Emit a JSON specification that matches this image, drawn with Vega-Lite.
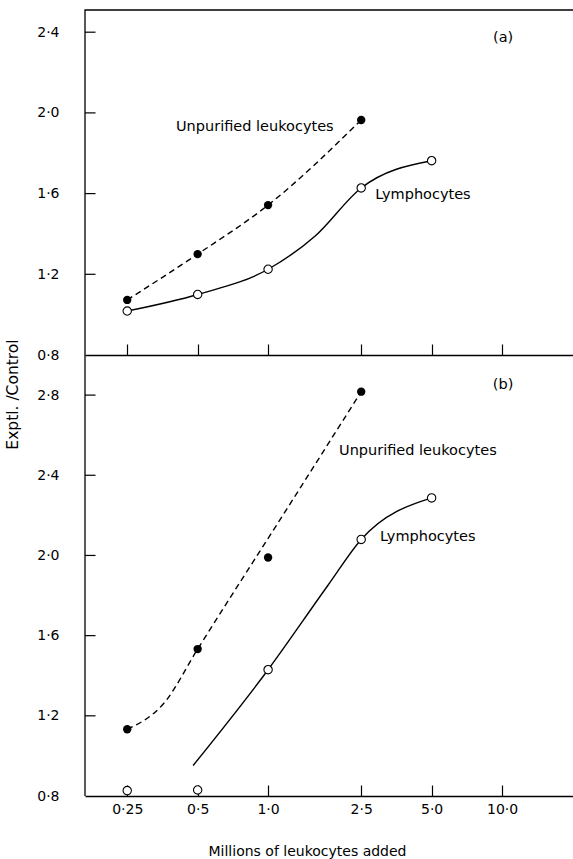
{
  "$schema": "https://vega.github.io/schema/vega-lite/v6.json",
  "padding": {"left": 5, "top": 7, "right": 0, "bottom": 2},
  "spacing": 0,
  "bounds": "flush",
  "background": "white",
  "config": {
    "view": {"stroke": null},
    "font": "DejaVu Sans",
    "axis": {
      "domainColor": "black", "tickColor": "black", "labelColor": "black", "titleColor": "black",
      "grid": false, "domainWidth": 1.3, "tickWidth": 1.2,
      "labelFont": "DejaVu Sans", "labelFontSize": 14, "titleFont": "DejaVu Sans", "titleFontSize": 14, "titleFontWeight": "normal"
    },
    "text": {"font": "DejaVu Sans", "fontSize": 14.5, "color": "black"}
  },
  "datasets": {
    "points": [
      {"panel": "a", "series": "Unpurified", "x": 0.25, "y": 1.073},
      {"panel": "a", "series": "Unpurified", "x": 0.5, "y": 1.30},
      {"panel": "a", "series": "Unpurified", "x": 1.0, "y": 1.543},
      {"panel": "a", "series": "Unpurified", "x": 2.5, "y": 1.965},
      {"panel": "a", "series": "Lymphocytes", "x": 0.25, "y": 1.018},
      {"panel": "a", "series": "Lymphocytes", "x": 0.5, "y": 1.10},
      {"panel": "a", "series": "Lymphocytes", "x": 1.0, "y": 1.225},
      {"panel": "a", "series": "Lymphocytes", "x": 2.5, "y": 1.628},
      {"panel": "a", "series": "Lymphocytes", "x": 5.0, "y": 1.763},
      {"panel": "b", "series": "Unpurified", "x": 0.25, "y": 1.133},
      {"panel": "b", "series": "Unpurified", "x": 0.5, "y": 1.533},
      {"panel": "b", "series": "Unpurified", "x": 1.0, "y": 1.99},
      {"panel": "b", "series": "Unpurified", "x": 2.5, "y": 2.817},
      {"panel": "b", "series": "Lymphocytes", "x": 0.25, "y": 0.827},
      {"panel": "b", "series": "Lymphocytes", "x": 0.5, "y": 0.83},
      {"panel": "b", "series": "Lymphocytes", "x": 1.0, "y": 1.43},
      {"panel": "b", "series": "Lymphocytes", "x": 2.5, "y": 2.08},
      {"panel": "b", "series": "Lymphocytes", "x": 5.0, "y": 2.287}
    ],
    "curves": [
      {"panel": "a", "series": "Unpurified", "x": 0.25, "y": 1.073},
      {"panel": "a", "series": "Unpurified", "x": 0.5, "y": 1.30},
      {"panel": "a", "series": "Unpurified", "x": 1.0, "y": 1.543},
      {"panel": "a", "series": "Unpurified", "x": 2.5, "y": 1.965},
      {"panel": "a", "series": "Lymphocytes", "x": 0.25, "y": 1.018},
      {"panel": "a", "series": "Lymphocytes", "x": 0.5, "y": 1.10},
      {"panel": "a", "series": "Lymphocytes", "x": 1.0, "y": 1.225},
      {"panel": "a", "series": "Lymphocytes", "x": 1.59, "y": 1.39},
      {"panel": "a", "series": "Lymphocytes", "x": 2.5, "y": 1.628},
      {"panel": "a", "series": "Lymphocytes", "x": 5.0, "y": 1.763},
      {"panel": "b", "series": "Unpurified", "x": 0.25, "y": 1.133},
      {"panel": "b", "series": "Unpurified", "x": 0.36, "y": 1.265},
      {"panel": "b", "series": "Unpurified", "x": 0.5, "y": 1.533},
      {"panel": "b", "series": "Unpurified", "x": 1.2, "y": 2.23},
      {"panel": "b", "series": "Unpurified", "x": 2.5, "y": 2.817},
      {"panel": "b", "series": "Lymphocytes", "x": 0.478, "y": 0.952},
      {"panel": "b", "series": "Lymphocytes", "x": 1.0, "y": 1.43},
      {"panel": "b", "series": "Lymphocytes", "x": 1.8, "y": 1.85},
      {"panel": "b", "series": "Lymphocytes", "x": 2.5, "y": 2.08},
      {"panel": "b", "series": "Lymphocytes", "x": 5.0, "y": 2.287}
    ],
    "labels": [
      {"panel": "a", "kind": "series", "text": "Unpurified leukocytes", "x": 0.404, "y": 1.93},
      {"panel": "a", "kind": "series", "text": "Lymphocytes", "x": 2.87, "y": 1.593},
      {"panel": "a", "kind": "panel", "text": "(a)", "x": 10.1, "y": 2.372},
      {"panel": "b", "kind": "series", "text": "Unpurified leukocytes", "x": 2.01, "y": 2.52},
      {"panel": "b", "kind": "series", "text": "Lymphocytes", "x": 3.01, "y": 2.09},
      {"panel": "b", "kind": "panel", "text": "(b)", "x": 10.1, "y": 2.85}
    ],
    "frame": [
      {"panel": "a", "i": 1, "x": 0.165, "y": 0.8},
      {"panel": "a", "i": 2, "x": 0.165, "y": 2.51},
      {"panel": "a", "i": 3, "x": 20.1, "y": 2.51},
      {"panel": "b", "i": 1, "x": 0.165, "y": 0.8},
      {"panel": "b", "i": 2, "x": 0.165, "y": 3.0}
    ],
    "yticks": [
      {"panel": "a", "x": 0.165, "x2": 0.183, "y": 1.2},
      {"panel": "a", "x": 0.165, "x2": 0.183, "y": 1.6},
      {"panel": "a", "x": 0.165, "x2": 0.183, "y": 2.0},
      {"panel": "a", "x": 0.165, "x2": 0.183, "y": 2.4},
      {"panel": "b", "x": 0.165, "x2": 0.183, "y": 1.2},
      {"panel": "b", "x": 0.165, "x2": 0.183, "y": 1.6},
      {"panel": "b", "x": 0.165, "x2": 0.183, "y": 2.0},
      {"panel": "b", "x": 0.165, "x2": 0.183, "y": 2.4},
      {"panel": "b", "x": 0.165, "x2": 0.183, "y": 2.8}
    ]
  },
  "vconcat": [
    {
      "width": 488,
      "height": 345,
      "encoding": {
        "x": {"field": "x", "type": "quantitative", "scale": {"type": "log", "domain": [0.165, 20.1], "nice": false},
          "axis": {"values": [0.25, 0.5, 1, 2.5, 5, 10], "labels": false, "tickSize": -11, "title": null}},
        "y": {"field": "y", "type": "quantitative", "scale": {"domain": [0.8, 2.51], "nice": false, "zero": false},
          "axis": {"values": [0.8, 1.2, 1.6, 2.0, 2.4], "domain": false, "ticks": false, "labelPadding": 26, "labelExpr": "replace(format(datum.value, '.1f'), '.', '·')", "title": null}}
      },
      "layer": [
        {
          "data": {"name": "frame"},
          "transform": [{"filter": "datum.panel == 'a'"}],
          "mark": {"type": "line", "color": "black", "strokeWidth": 1.3},
          "encoding": {"order": {"field": "i"}}
        },
        {
          "data": {"name": "yticks"},
          "transform": [{"filter": "datum.panel == 'a'"}],
          "mark": {"type": "rule", "color": "black", "strokeWidth": 1.2},
          "encoding": {"x2": {"field": "x2"}}
        },
        {
          "data": {"name": "curves"},
          "transform": [{"filter": "datum.panel == 'a' && datum.series == 'Unpurified'"}],
          "mark": {"type": "line", "interpolate": "monotone", "strokeDash": [6, 4], "color": "black", "strokeWidth": 1.4}
        },
        {
          "data": {"name": "curves"},
          "transform": [{"filter": "datum.panel == 'a' && datum.series == 'Lymphocytes'"}],
          "mark": {"type": "line", "interpolate": "monotone", "color": "black", "strokeWidth": 1.4}
        },
        {
          "data": {"name": "points"},
          "transform": [{"filter": "datum.panel == 'a' && datum.series == 'Unpurified'"}],
          "mark": {"type": "point", "filled": true, "color": "black", "size": 70, "opacity": 1}
        },
        {
          "data": {"name": "points"},
          "transform": [{"filter": "datum.panel == 'a' && datum.series == 'Lymphocytes'"}],
          "mark": {"type": "point", "filled": true, "fill": "white", "stroke": "black", "strokeWidth": 1.1, "size": 70, "opacity": 1}
        },
        {
          "data": {"name": "labels"},
          "transform": [{"filter": "datum.panel == 'a' && datum.kind == 'series'"}],
          "mark": {"type": "text", "align": "left", "baseline": "middle"},
          "encoding": {"text": {"field": "text"}}
        },
        {
          "data": {"name": "labels"},
          "transform": [{"filter": "datum.panel == 'a' && datum.kind == 'panel'"}],
          "mark": {"type": "text", "align": "center", "baseline": "middle"},
          "encoding": {"text": {"field": "text"}}
        }
      ]
    },
    {
      "width": 488,
      "height": 441,
      "encoding": {
        "x": {"field": "x", "type": "quantitative", "scale": {"type": "log", "domain": [0.165, 20.1], "nice": false},
          "axis": {"values": [0.25, 0.5, 1, 2.5, 5, 10], "tickSize": -11, "labelPadding": 17,
            "labelExpr": "datum.value == 0.25 ? '0·25' : replace(format(datum.value, '.1f'), '.', '·')",
            "title": "Millions of leukocytes added", "titleX": 222, "titleY": 48, "titleBaseline": "top"}},
        "y": {"field": "y", "type": "quantitative", "scale": {"domain": [0.8, 3.0], "nice": false, "zero": false},
          "axis": {"values": [0.8, 1.2, 1.6, 2.0, 2.4, 2.8], "domain": false, "ticks": false, "labelPadding": 26, "labelExpr": "replace(format(datum.value, '.1f'), '.', '·')",
            "title": "Exptl. /Control", "titleFontSize": 15.5, "titleX": -73, "titleY": 39, "titleBaseline": "middle", "titleAngle": -90}}
      },
      "layer": [
        {
          "data": {"name": "frame"},
          "transform": [{"filter": "datum.panel == 'b'"}],
          "mark": {"type": "line", "color": "black", "strokeWidth": 1.3},
          "encoding": {"order": {"field": "i"}}
        },
        {
          "data": {"name": "yticks"},
          "transform": [{"filter": "datum.panel == 'b'"}],
          "mark": {"type": "rule", "color": "black", "strokeWidth": 1.2},
          "encoding": {"x2": {"field": "x2"}}
        },
        {
          "data": {"name": "curves"},
          "transform": [{"filter": "datum.panel == 'b' && datum.series == 'Unpurified'"}],
          "mark": {"type": "line", "interpolate": "monotone", "strokeDash": [6, 4], "color": "black", "strokeWidth": 1.4}
        },
        {
          "data": {"name": "curves"},
          "transform": [{"filter": "datum.panel == 'b' && datum.series == 'Lymphocytes'"}],
          "mark": {"type": "line", "interpolate": "monotone", "color": "black", "strokeWidth": 1.4}
        },
        {
          "data": {"name": "points"},
          "transform": [{"filter": "datum.panel == 'b' && datum.series == 'Unpurified'"}],
          "mark": {"type": "point", "filled": true, "color": "black", "size": 70, "opacity": 1}
        },
        {
          "data": {"name": "points"},
          "transform": [{"filter": "datum.panel == 'b' && datum.series == 'Lymphocytes'"}],
          "mark": {"type": "point", "filled": true, "fill": "white", "stroke": "black", "strokeWidth": 1.1, "size": 70, "opacity": 1}
        },
        {
          "data": {"name": "labels"},
          "transform": [{"filter": "datum.panel == 'b' && datum.kind == 'series'"}],
          "mark": {"type": "text", "align": "left", "baseline": "middle"},
          "encoding": {"text": {"field": "text"}}
        },
        {
          "data": {"name": "labels"},
          "transform": [{"filter": "datum.panel == 'b' && datum.kind == 'panel'"}],
          "mark": {"type": "text", "align": "center", "baseline": "middle"},
          "encoding": {"text": {"field": "text"}}
        }
      ]
    }
  ]
}
